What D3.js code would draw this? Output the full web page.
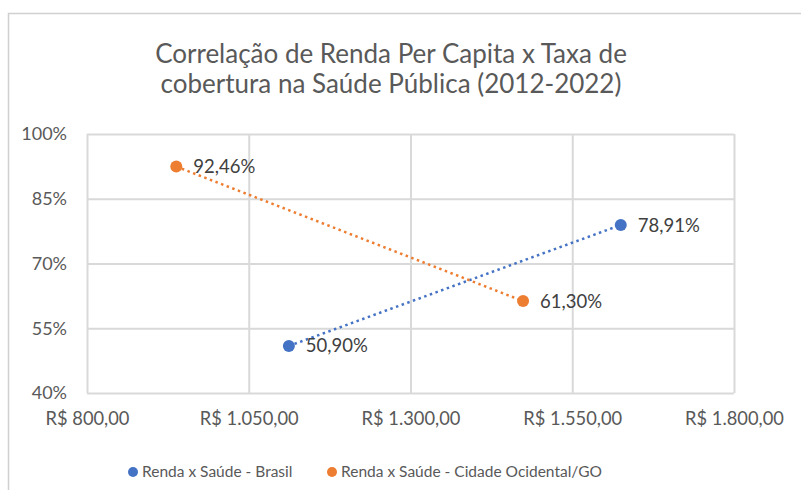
<!DOCTYPE html>
<html lang="pt">
<head>
    <meta charset="utf-8">
    <title>correlacao.html</title>
    <script type="text/javascript" src="https://cdnjs.cloudflare.com/ajax/libs/d3/7.8.5/d3.min.js"></script>
    <style>
        body { margin: 0; background: #fff; }
        text { font-family: Lato, "Open Sans", sans-serif; }
    </style>
</head>
<body>
    <script type="text/javascript">
    //chart values
    var titleLines = ["Correlação de Renda Per Capita x Taxa de", "cobertura na Saúde Pública (2012-2022)"];
    var seriesNames = ["Renda x Saúde - Brasil", "Renda x Saúde - Cidade Ocidental/GO"];
    var brasilRenda = [1112, 1625];
    var brasilSaude = [0.5090, 0.7891];
    var ocidentalRenda = [938, 1474];
    var ocidentalSaude = [0.9246, 0.6130];
    var xTicks = [800, 1050, 1300, 1550, 1800];
    var yTicks = [0.40, 0.55, 0.70, 0.85, 1.00];

    var colors = ["#4472C4", "#ED7D31"];

    //dimensions
    var width = 801, height = 490;
    var plot = {left: 87, right: 734, top: 134, bottom: 393};

    var svg = d3.select("body")
                .append("svg")
                .attr("width", width)
                .attr("height", height);

    //outer chart border (cut off at right and bottom)
    svg.append("path")
       .attr("d", "M8.5," + height + "V13.5H" + width)
       .attr("fill", "none")
       .attr("stroke", "#d0d0d0")
       .attr("stroke-width", 1.5);

    //title
    svg.append("text")
       .attr("text-anchor", "middle")
       .attr("fill", "#595959")
       .attr("font-size", 26)
       .selectAll("tspan")
       .data(titleLines)
       .enter()
       .append("tspan")
       .attr("x", 391)
       .attr("y", function(d, i) { return 63 + i * 30; })
       .text(function(d) { return d; });

    //scales
    var xScale = d3.scaleLinear().domain([800, 1800]).range([plot.left, plot.right]);
    var yScale = d3.scaleLinear().domain([0.40, 1.00]).range([plot.bottom, plot.top]);

    var fmtMoney = function(d) {
        return "R$ " + d3.format(",.2f")(d).replace(/,/g, "#").replace(".", ",").replace(/#/g, ".");
    };
    var fmtPct = function(d) { return Math.round(d * 100) + "%"; };
    var fmtLabel = function(d) { return (d * 100).toFixed(2).replace(".", ",") + "%"; };

    //gridlines
    var xAxis = d3.axisBottom(xScale).tickValues(xTicks).tickSize(-(plot.bottom - plot.top)).tickFormat(fmtMoney).tickPadding(19);
    var yAxis = d3.axisLeft(yScale).tickValues(yTicks).tickSize(-(plot.right - plot.left)).tickFormat(fmtPct).tickPadding(20);

    var gx = svg.append("g")
       .attr("transform", "translate(0," + plot.bottom + ")")
       .call(xAxis);
    var gy = svg.append("g")
       .attr("transform", "translate(" + plot.left + ",0)")
       .call(yAxis);

    [gx, gy].forEach(function(g) {
        g.select(".domain").remove();
        g.selectAll(".tick line").attr("stroke", "#d9d9d9").attr("stroke-width", 2);
        g.selectAll(".tick text")
         .attr("fill", "#595959")
         .attr("font-family", "Lato, sans-serif");
    });
    gx.selectAll(".tick text").attr("font-size", 18.3);
    gy.selectAll(".tick text").attr("font-size", 18);

    var series = [
        {name: seriesNames[0], x: brasilRenda, y: brasilSaude, color: colors[0]},
        {name: seriesNames[1], x: ocidentalRenda, y: ocidentalSaude, color: colors[1]}
    ];

    //dotted connecting lines
    var line = d3.line()
        .x(function(d) { return xScale(d[0]); })
        .y(function(d) { return yScale(d[1]); });

    series.forEach(function(s) {
        var pts = s.x.map(function(v, i) { return [v, s.y[i]]; });

        svg.append("path")
           .attr("d", line(pts))
           .attr("fill", "none")
           .attr("stroke", s.color)
           .attr("stroke-width", 2.5)
           .attr("stroke-dasharray", "2.5,3.5");

        svg.selectAll(null)
           .data(pts)
           .enter()
           .append("circle")
           .attr("cx", function(d) { return xScale(d[0]); })
           .attr("cy", function(d) { return yScale(d[1]); })
           .attr("r", 6)
           .attr("fill", s.color);

        svg.selectAll(null)
           .data(pts)
           .enter()
           .append("text")
           .attr("x", function(d) { return xScale(d[0]) + 17; })
           .attr("y", function(d) { return yScale(d[1]); })
           .attr("dy", "0.35em")
           .attr("fill", "#404040")
           .attr("font-size", 18.5)
           .text(function(d) { return fmtLabel(d[1]); });
    });

    //legend
    var legendX = [133, 332];
    var legend = svg.selectAll(".legend")
        .data(series)
        .enter()
        .append("g")
        .attr("class", "legend")
        .attr("transform", function(d, i) { return "translate(" + legendX[i] + ",472)"; });

    legend.append("circle")
          .attr("r", 5)
          .attr("fill", function(d) { return d.color; });

    legend.append("text")
          .attr("x", 9)
          .attr("dy", "0.35em")
          .attr("fill", "#595959")
          .attr("font-size", 15.5)
          .text(function(d) { return d.name; });
    </script>
</body>
</html>
